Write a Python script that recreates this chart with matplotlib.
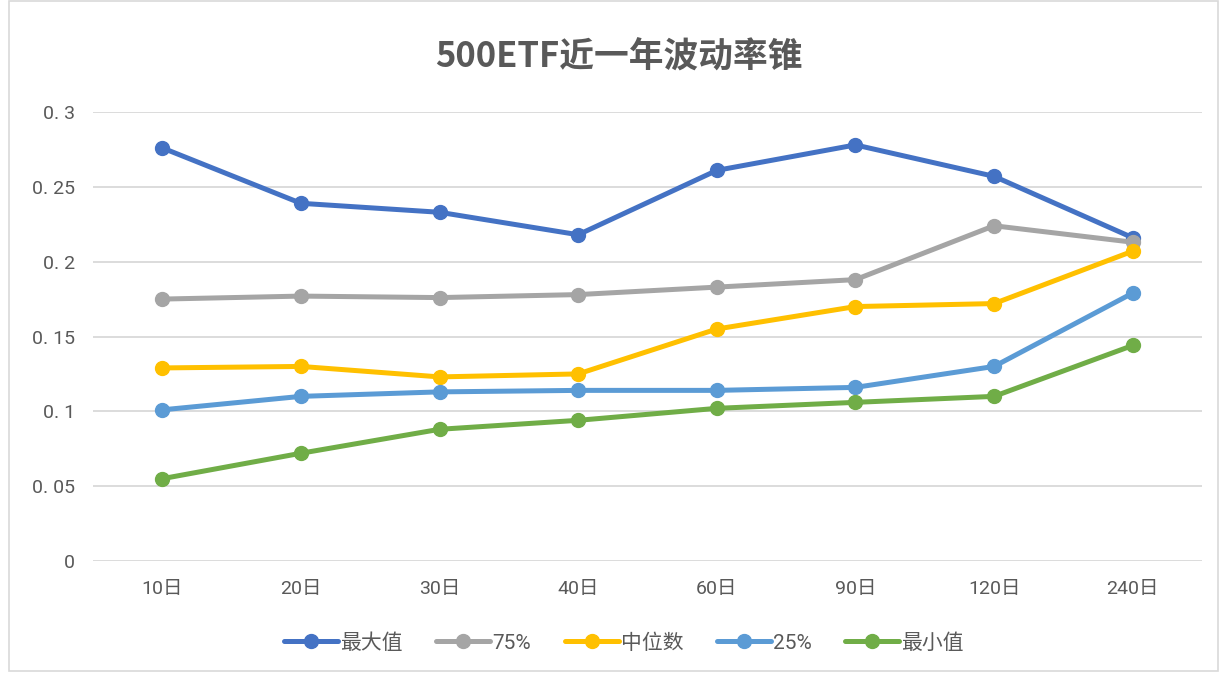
import matplotlib
matplotlib.use('Agg')
import matplotlib.pyplot as plt
from matplotlib.patches import Rectangle

plt.rcParams['font.family'] = ['Roboto', 'Noto Sans CJK SC', 'DejaVu Sans']

categories = ['10日', '20日', '30日', '40日', '60日', '90日', '120日', '240日']
max_vals = [0.276, 0.239, 0.233, 0.218, 0.261, 0.278, 0.257, 0.216]
p75_vals = [0.175, 0.177, 0.176, 0.178, 0.183, 0.188, 0.224, 0.213]
median_vals = [0.129, 0.130, 0.123, 0.125, 0.155, 0.170, 0.172, 0.207]
p25_vals = [0.101, 0.110, 0.113, 0.114, 0.114, 0.116, 0.130, 0.179]
min_vals = [0.055, 0.072, 0.088, 0.094, 0.102, 0.106, 0.110, 0.144]

series = [
    ('最大值', max_vals, '#4472C4'),
    ('75%', p75_vals, '#A5A5A5'),
    ('中位数', median_vals, '#FFC000'),
    ('25%', p25_vals, '#5B9BD5'),
    ('最小值', min_vals, '#70AD47'),
]

fig = plt.figure(figsize=(12.19, 6.73), dpi=100)
ax = fig.add_axes([93 / 1219, (673 - 561) / 673, 1109 / 1219, 449 / 673])

x = range(len(categories))
for name, vals, color in series:
    ax.plot(x, vals, color=color, lw=3.6, marker='o', markersize=10, label=name,
            solid_capstyle='round')

ax.set_xlim(-0.5, len(categories) - 0.5)
ax.set_ylim(0, 0.3)
yticks = [0, 0.05, 0.1, 0.15, 0.2, 0.25, 0.3]
ax.set_yticks(yticks)
ax.set_yticklabels([f'{v:g}'.replace('.', '. ') for v in yticks])
ax.set_xticks(list(x))
ax.set_xticklabels(categories)
ax.tick_params(length=0, labelsize=14, colors='#595959', pad=14)
ax.tick_params(axis='y', pad=13)
ax.grid(axis='y', color='#D9D9D9', lw=1.3)
ax.set_axisbelow(True)
for s in ax.spines.values():
    s.set_visible(False)

fig.text(619 / 1219, 1 - 57 / 673, '500ETF近一年波动率锥', ha='center', va='center',
         fontsize=25, fontweight='bold', color='#595959',
         family=['Noto Sans CJK SC', 'DejaVu Sans'])

ax.legend(loc='center', bbox_to_anchor=(624 / 1219, (673 - 643) / 673), bbox_transform=fig.transFigure,
          ncol=5, frameon=False, fontsize=15, labelcolor='#595959', handlelength=2.6,
          handletextpad=0.1, columnspacing=1.6)

fig.add_artist(Rectangle((9 / 1219, 0.003), 1 - 10 / 1219, 0.995, transform=fig.transFigure,
                         fill=False, edgecolor='#D9D9D9', lw=1.2))

fig.savefig('out.png', dpi=100)
